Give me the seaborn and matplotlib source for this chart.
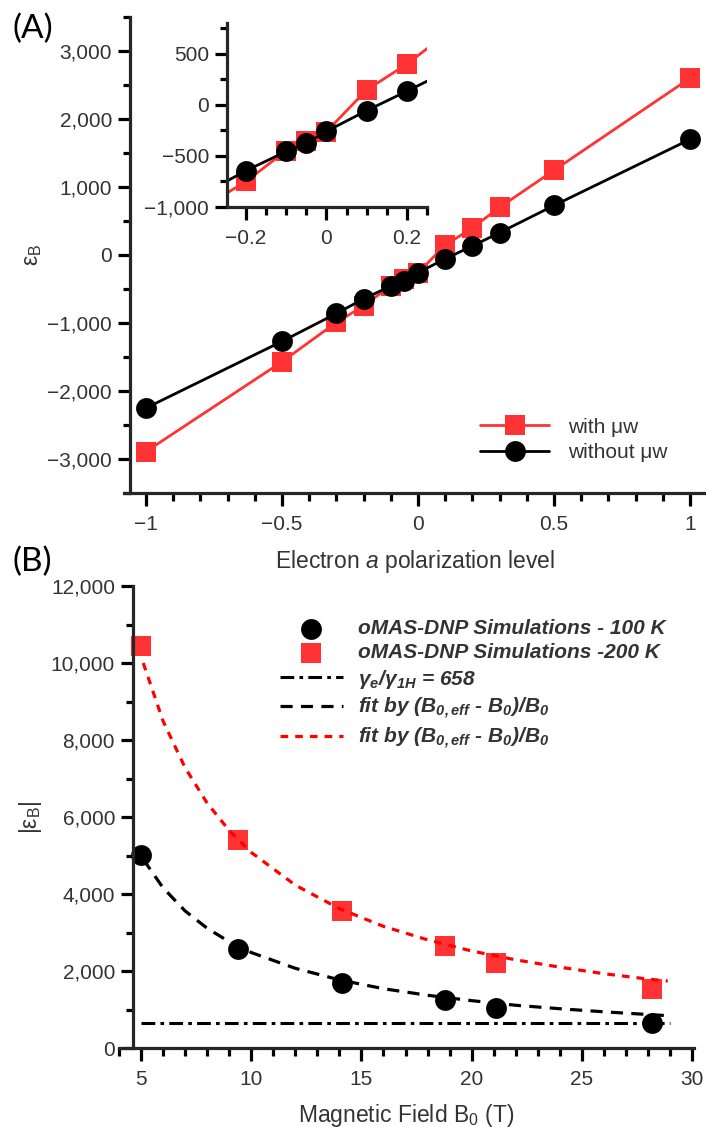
import numpy as np
import pandas as pd
import matplotlib
matplotlib.use("Agg")
import matplotlib.pyplot as plt
import matplotlib.ticker as mticker
import seaborn as sns

sns.set_style("ticks")
plt.rcParams['font.family'] = ['Liberation Sans', 'DejaVu Sans']
plt.rcParams['mathtext.fontset'] = 'custom'
plt.rcParams['mathtext.rm'] = 'Liberation Sans'
plt.rcParams['mathtext.it'] = 'Liberation Sans:italic'
plt.rcParams['mathtext.bf'] = 'Liberation Sans:bold:italic'

# ---- data, panel A ----
polarization = [-1, -0.5, -0.3, -0.2, -0.1, -0.05, 0, 0.1, 0.2, 0.3, 0.5, 1]
eps_with_mw = [-2890, -1570, -990, -750, -450, -352, -263, 145, 398, 700, 1245, 2600]
eps_without_mw = [-2250, -1270, -860, -645, -457, -378, -260, -57, 133, 328, 728, 1700]

# ---- data, panel B ----
field = [5, 9.4, 14.1, 18.8, 21.1, 28.2]
eps_100K = [5020, 2570, 1700, 1250, 1040, 650]
eps_200K = [10440, 5400, 3570, 2650, 2200, 1530]
ratio_value = 658
ratio_span = [5, 29]
fit_field = [5.1, 6, 7, 8, 9, 10, 12, 14, 16, 18, 20, 22, 24, 26, 28, 28.9]
fit_100K = [4900, 4160, 3560, 3110, 2760, 2480, 2070, 1770, 1540, 1370, 1230, 1110, 1020, 940, 870, 840]
fit_200K = [10000, 8490, 7280, 6360, 5650, 5080, 4230, 3620, 3160, 2810, 2520, 2290, 2100, 1930, 1790, 1740]

RED = '#FF3333'
TXT = '#333333'
TICK_FS = 15
LABEL_FS = 16.5

dfA = pd.DataFrame({'p': polarization, 'with': eps_with_mw, 'without': eps_without_mw})
dfB = pd.DataFrame({'B0': field, 'T100': eps_100K, 'T200': eps_200K})
dfFit = pd.DataFrame({'B0': fit_field, 'f100': fit_100K, 'f200': fit_200K})
dfRatio = pd.DataFrame({'B0': ratio_span, 'r': [ratio_value, ratio_value]})

W, H = 706, 1127
fig = plt.figure(figsize=(W / 100, H / 100), dpi=100)


def px_axes(x0, y0, x1, y1):
    return fig.add_axes([x0 / W, 1 - y1 / H, (x1 - x0) / W, (y1 - y0) / H])


def style_axes(ax, fs=TICK_FS):
    for s in ['top', 'right']:
        ax.spines[s].set_visible(False)
    for s in ['left', 'bottom']:
        ax.spines[s].set_linewidth(2.3)
    ax.tick_params(which='major', length=9.5, width=2.3, labelsize=fs, labelcolor=TXT, color='black')
    ax.tick_params(which='minor', length=6, width=2.3, color='black')
    ax.tick_params(axis='y', which='major', length=9, pad=4)
    ax.tick_params(axis='y', which='minor', length=5)
    ax.tick_params(axis='x', which='major', pad=6)


def fmt_num(v, pos=None):
    s = f"{v:,.0f}" if abs(v) >= 1 or v == 0 else f"{v:g}"
    return s.replace('-', '\u2212')


def fmt_g(v, pos=None):
    return f"{v:g}".replace('-', '\u2212')


def draw_A(ax, ms=15):
    sns.lineplot(data=dfA, x='p', y='with', ax=ax, color=RED, lw=2, marker='s',
                 markersize=ms, markeredgewidth=0, label='with \u03bcw', errorbar=None)
    sns.lineplot(data=dfA, x='p', y='without', ax=ax, color='black', lw=2, marker='o',
                 markersize=ms, markeredgewidth=0, label='without \u03bcw', errorbar=None)


# ---- panel A main ----
axA = px_axes(124, 17, 706, 493)
draw_A(axA)
axA.set_xlim(-1.081, 1.059)
axA.set_ylim(-3500, 3500)
axA.spines['left'].set_position(('data', -1.059))
style_axes(axA)
axA.xaxis.set_major_locator(mticker.MultipleLocator(0.5))
axA.xaxis.set_minor_locator(mticker.MultipleLocator(0.1))
axA.yaxis.set_major_locator(mticker.MultipleLocator(1000))
axA.yaxis.set_minor_locator(mticker.MultipleLocator(500))
axA.xaxis.set_major_formatter(mticker.FuncFormatter(fmt_g))
axA.yaxis.set_major_formatter(mticker.FuncFormatter(fmt_num))
axA.set_xlabel('Electron $a$ polarization level', fontsize=LABEL_FS, color=TXT)
axA.set_ylabel('\u03b5$_\\mathrm{B}$', fontsize=LABEL_FS, color=TXT)
axA.yaxis.set_label_coords((44 - 124) / 582, 0.5)
axA.xaxis.set_label_coords(0.5, -(548 - 493) / 476)
axA.legend(loc='center left', bbox_to_anchor=(0.612, 0.112), frameon=False, fontsize=15,
           handlelength=3.3, handletextpad=0.9, labelspacing=0.3, labelcolor=TXT,
           borderaxespad=0, borderpad=0)

# ---- panel A inset ----
axI = px_axes(227, 23, 427, 207)
draw_A(axI)
axI.set_xlim(-0.247, 0.25)
axI.set_ylim(-1000, 800)
style_axes(axI)
axI.xaxis.set_major_locator(mticker.FixedLocator([-0.2, 0, 0.2]))
axI.xaxis.set_minor_locator(mticker.MultipleLocator(0.05))
axI.yaxis.set_major_locator(mticker.MultipleLocator(500))
axI.yaxis.set_minor_locator(mticker.MultipleLocator(250))
axI.xaxis.set_major_formatter(mticker.FuncFormatter(fmt_g))
axI.yaxis.set_major_formatter(mticker.FuncFormatter(fmt_num))
axI.set_xlabel('')
axI.set_ylabel('')
axI.get_legend().remove()

# ---- panel B ----
axB = px_axes(119, 586, 694, 1048)
sns.scatterplot(data=dfB, x='B0', y='T100', ax=axB, color='black', marker='o', s=225,
                linewidth=0, label='oMAS-DNP Simulations - 100 K', zorder=2)
sns.scatterplot(data=dfB, x='B0', y='T200', ax=axB, color=RED, marker='s', s=225,
                linewidth=0, label='oMAS-DNP Simulations -200 K', zorder=2)
sns.lineplot(data=dfRatio, x='B0', y='r', ax=axB, color='black', lw=2.2,
             linestyle=(0, (4.5, 1.7, 1.2, 1.7)), label=r'$\mathbf{\gamma_e/\gamma_{1H}}$ = 658',
             zorder=3)
sns.lineplot(data=dfFit, x='B0', y='f100', ax=axB, color='black', lw=2.3,
             linestyle=(0, (3.8, 2.6)), label=r'fit by (B$_\mathbf{0,eff}$ - B$_\mathbf{0}$)/B$_\mathbf{0}$',
             zorder=3)
sns.lineplot(data=dfFit, x='B0', y='f200', ax=axB, color='#FF0000', lw=2.3,
             linestyle=(0, (2.4, 2.2)), label=r'fit by (B$_\mathbf{0,eff}$ - B$_\mathbf{0}$)/B$_\mathbf{0}$',
             zorder=3)
axB.set_xlim(4.0, 30.09)
axB.set_ylim(0, 12000)
axB.spines['left'].set_position(('data', 4.64))
style_axes(axB)
axB.xaxis.set_major_locator(mticker.MultipleLocator(5))
axB.xaxis.set_minor_locator(mticker.MultipleLocator(1))
axB.yaxis.set_major_locator(mticker.MultipleLocator(2000))
axB.yaxis.set_minor_locator(mticker.MultipleLocator(1000))
axB.xaxis.set_major_formatter(mticker.FuncFormatter(fmt_g))
axB.yaxis.set_major_formatter(mticker.FuncFormatter(fmt_num))
axB.set_xlabel('Magnetic Field B$_0$ (T)', fontsize=LABEL_FS, color=TXT)
axB.set_ylabel('|\u03b5$_\\mathrm{B}$|', fontsize=LABEL_FS, color=TXT)
axB.yaxis.set_label_coords((44 - 119) / 575, 0.5)
axB.xaxis.set_label_coords(0.5, -(1102 - 1048) / 462)
axB.legend(loc='center left', bbox_to_anchor=(0.28, 0.785), frameon=False,
           prop={'weight': 'bold', 'style': 'italic', 'size': 15},
           handlelength=3.0, handletextpad=0.75, labelspacing=0.25, labelcolor=TXT,
           borderaxespad=0, borderpad=0)

# panel tags
fig.text(12 / W, 1 - 29 / H, '(A)', fontsize=24, color='black', va='center', family=['Lato', 'DejaVu Sans'])
fig.text(12 / W, 1 - 562 / H, '(B)', fontsize=24, color='black', va='center', family=['Lato', 'DejaVu Sans'])

fig.savefig('out.png', dpi=100)
